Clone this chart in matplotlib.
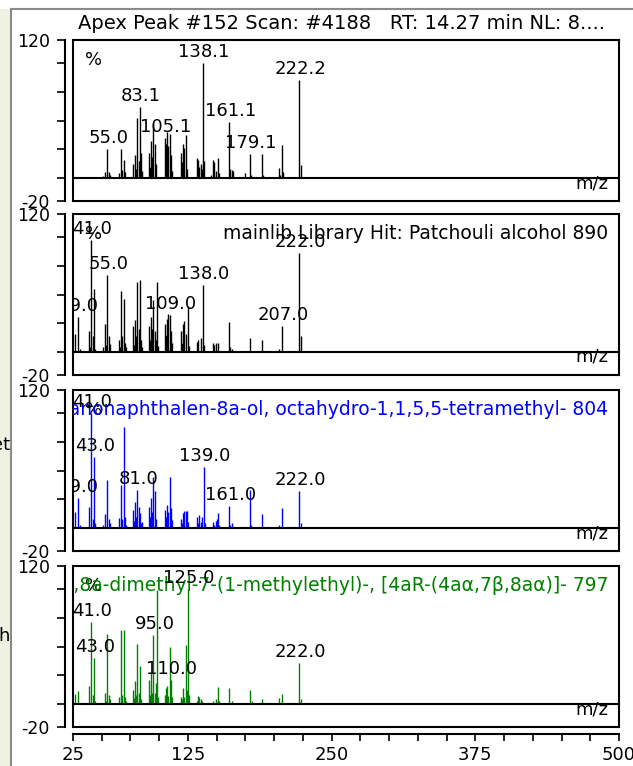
import matplotlib.pyplot as plt
from matplotlib.patches import Rectangle
from matplotlib.lines import Line2D
from matplotlib.transforms import offset_copy, blended_transform_factory

W, H = 633, 766

# ---- spectra (m/z, relative abundance %) ----
apex_mz = [51, 53, 55, 56, 57,
           65, 67, 68, 69, 70,
           77, 79, 80, 81, 82, 83, 84, 85,
           91, 92, 93, 94, 95, 96, 97,
           105, 106, 107, 108, 109, 110, 111,
           119, 120, 121, 122, 123, 124,
           133, 134, 135, 136, 137, 138, 139,
           145, 147, 148, 149, 151, 152,
           161, 162, 163, 164,
           175, 179, 180, 189, 190,
           204, 205, 207, 208, 222, 223]
apex_int = [2, 5, 25, 5, 3,
            4, 25, 7, 16, 5,
            12, 20, 8, 52, 15, 62, 22, 6,
            22, 10, 32, 18, 48, 30, 12,
            35, 30, 40, 28, 38, 20, 6,
            22, 14, 30, 26, 37, 8,
            17, 16, 10, 12, 8, 100, 15,
            3, 16, 14, 6, 17, 4,
            49, 8, 7, 6,
            4, 21, 3, 21, 3,
            9, 3, 29, 5, 85, 11]

lib_mz = [27, 29, 31, 39, 40, 41, 42, 43, 44,
          51, 53, 54, 55, 56, 57,
          65, 66, 67, 68, 69, 70, 71,
          77, 78, 79, 80, 81, 82, 83, 84, 85,
          91, 92, 93, 94, 95, 96, 97, 98, 99,
          105, 106, 107, 108, 109, 110, 111,
          119, 120, 121, 122, 123, 125, 126,
          133, 134, 136, 138, 139,
          147, 148, 149, 151,
          161, 162, 163, 179, 189,
          204, 207, 222, 223]
lib_int = [16, 30, 3, 18, 4, 97, 14, 55, 3,
           4, 24, 6, 67, 14, 7,
           10, 4, 53, 14, 46, 8, 4,
           23, 6, 28, 14, 61, 20, 63, 10, 4,
           23, 10, 30, 20, 45, 18, 10, 61, 5,
           24, 15, 29, 33, 32, 18, 8,
           18, 8, 24, 27, 16, 40, 5,
           9, 10, 12, 58, 6,
           8, 6, 8, 8,
           26, 4, 3, 12, 10,
           3, 23, 86, 14]

hit2_mz = [27, 29, 31, 39, 41, 42, 43, 44,
           51, 53, 55, 56, 57,
           65, 67, 68, 69, 70, 71,
           77, 78, 79, 80, 81, 82, 83, 84, 85,
           91, 92, 93, 94, 95, 96, 97,
           105, 106, 107, 108, 109, 110, 111,
           119, 120, 121, 122, 123, 124, 125,
           133, 134, 135, 136, 137, 139, 140,
           147, 148, 149, 150, 151, 152,
           161, 162, 163, 179, 180, 189,
           204, 207, 222, 223]
hit2_int = [14, 26, 3, 18, 100, 8, 62, 4,
            3, 12, 42, 8, 4,
            9, 37, 8, 88, 10, 3,
            16, 6, 23, 10, 33, 18, 13, 4, 5,
            18, 10, 26, 14, 44, 32, 8,
            16, 10, 20, 14, 44, 17, 7,
            8, 4, 13, 15, 15, 15, 5,
            10, 4, 11, 5, 10, 53, 4,
            5, 3, 6, 8, 13, 3,
            19, 3, 4, 33, 3, 12,
            3, 17, 32, 4]

hit3_mz = [27, 29, 39, 41, 42, 43, 44,
           53, 54, 55, 56, 57,
           65, 67, 68, 69, 70, 71,
           77, 78, 79, 80, 81, 82, 83, 84,
           91, 92, 93, 94, 95, 96, 97, 98, 99,
           105, 106, 107, 108, 109, 110, 111,
           119, 120, 121, 122, 123, 124, 125, 126,
           133, 134, 135, 136, 137,
           147, 149, 151, 152,
           161, 163, 179, 181, 189,
           204, 207, 222, 223]
hit3_int = [9, 11, 16, 71, 8, 40, 3,
            10, 3, 61, 8, 4,
            6, 64, 8, 64, 6, 3,
            12, 5, 20, 8, 52, 10, 33, 4,
            21, 8, 27, 10, 60, 10, 18, 99, 6,
            8, 14, 16, 7, 50, 21, 6,
            6, 4, 14, 6, 51, 12, 100, 8,
            3, 7, 6, 4, 3,
            3, 4, 15, 3,
            14, 3, 12, 3, 4,
            5, 9, 36, 4]

spectra = [(apex_mz, apex_int), (lib_mz, lib_int), (hit2_mz, hit2_int), (hit3_mz, hit3_int)]
bar_colors = ['black', 'black', '#0000ff', '#008000']

peak_labels = [
    ['55.0', '83.1', '105.1', '138.1', '161.1', '179.1', '222.2'],
    ['29.0', '41.0', '55.0', '109.0', '138.0', '207.0', '222.0'],
    ['29.0', '41.0', '43.0', '81.0', '139.0', '161.0', '222.0'],
    ['41.0', '43.0', '95.0', '110.0', '125.0', '222.0'],
]
panel_titles = [
    '',
    'mainlib Library Hit: Patchouli alcohol 890',
    '2H-2,4a-Ethanonaphthalen-8a-ol, octahydro-1,1,5,5-tetramethyl- 804',
    '1-Naphthalenol, decahydro-1,8a-dimethyl-7-(1-methylethyl)-, [4aR-(4a\u03b1,7\u03b2,8a\u03b1)]- 797',
]
header = 'Apex Peak #152 Scan: #4188   RT: 14.27 min NL: 8....'

xticks = list(range(25, 501, 25))
xtick_labels = ['25', '125', '250', '375', '500']
yticks = [-20, 0, 25, 50, 75, 100, 120]

# ---- layout (pixels) ----
FS = 13
PX = 0.72  # points per pixel at 100 dpi
panel_tops = [40, 214, 390, 566]
panel_h = 161
left_px, right_px = 73, 619

fig = plt.figure(figsize=(W / 100, H / 100), dpi=100)
fig.patch.set_facecolor('white')

# page behind the window + window frame
fig.add_artist(Rectangle((0, 0), 11 / W, 1 - 9 / H, transform=fig.transFigure,
                         facecolor='#eef2e3', edgecolor='none', zorder=0))
fig.add_artist(Line2D([11 / W, 11 / W], [0, 1 - 9 / H], transform=fig.transFigure,
                      color='#8a8a8a', lw=1.5))
fig.add_artist(Line2D([11 / W, 1], [1 - 9 / H, 1 - 9 / H], transform=fig.transFigure,
                      color='#8a8a8a', lw=1.5))
fig.text(10 / W, 1 - 450 / H, 'et', ha='right', va='baseline', fontsize=FS)
fig.text(10 / W, 1 - 641 / H, 'h', ha='right', va='baseline', fontsize=FS)

fig.text(341 / W, 1 - 29 / H, header, ha='center', va='baseline', fontsize=14)

for i, top in enumerate(panel_tops):
    ax = fig.add_axes([left_px / W, 1 - (top + panel_h) / H,
                       (right_px - left_px) / W, panel_h / H])
    ax.set_xlim(25, 500)
    ax.set_ylim(-20, 120)
    ax.patch.set_alpha(0)

    mz, inten = spectra[i]
    ax.vlines(mz, 0, inten, color=bar_colors[i], lw=1.0)
    ax.axhline(0, color='black', lw=1.5)

    for s in ['top', 'right', 'bottom']:
        ax.spines[s].set_linewidth(1.5)
    ax.spines['left'].set_position(('outward', 8 * PX))
    ax.spines['left'].set_linewidth(1.5)
    ax.add_line(Line2D([0, 0], [0, 1], transform=ax.transAxes, color='black',
                       lw=1.5, clip_on=False))

    ax.set_yticks(yticks)
    ax.set_yticklabels(['-20', '', '', '', '', '', '120'])
    ax.tick_params(axis='y', direction='out', length=8 * PX, width=1.2,
                   labelsize=12.5, pad=7 * PX)

    if i == 3:
        ax.spines['bottom'].set_position(('outward', 7 * PX))
        ax.add_line(Line2D([0, 1], [0, 0], transform=ax.transAxes, color='black',
                           lw=1.5, clip_on=False))
        ax.set_xticks(xticks)
        ax.set_xticklabels([str(t) if str(t) in xtick_labels else '' for t in xticks])
        ax.tick_params(axis='x', direction='out', length=7 * PX, width=1.2,
                       labelsize=FS, pad=5 * PX)
    else:
        ax.set_xticks([])

    # m/z tag on the baseline
    mz_tr = offset_copy(blended_transform_factory(ax.transAxes, ax.transData),
                        fig=fig, y=-10, units='dots')
    ax.text(0.98, 0, 'm/z', transform=mz_tr, ha='right', va='baseline', fontsize=FS)

    # % sign and panel title
    ax.text(0, 1, '%', transform=offset_copy(ax.transAxes, fig=fig, x=12, y=-25, units='dots'),
            ha='left', va='baseline', fontsize=FS)
    if panel_titles[i]:
        ax.text(0.98, 1, panel_titles[i],
                transform=offset_copy(ax.transAxes, fig=fig, y=-25, units='dots'),
                ha='right', va='baseline', fontsize=13.5, color=bar_colors[i], clip_on=True)

    # peak labels
    lookup = dict(zip(mz, inten))
    lab_tr = offset_copy(ax.transData, fig=fig, x=1, y=6, units='dots')
    for lab in peak_labels[i]:
        pos = float(lab)
        ax.text(pos, lookup.get(round(pos), 0), lab, transform=lab_tr,
                ha='center', va='baseline', fontsize=FS, clip_on=True)

fig.savefig('out.png', dpi=100)
